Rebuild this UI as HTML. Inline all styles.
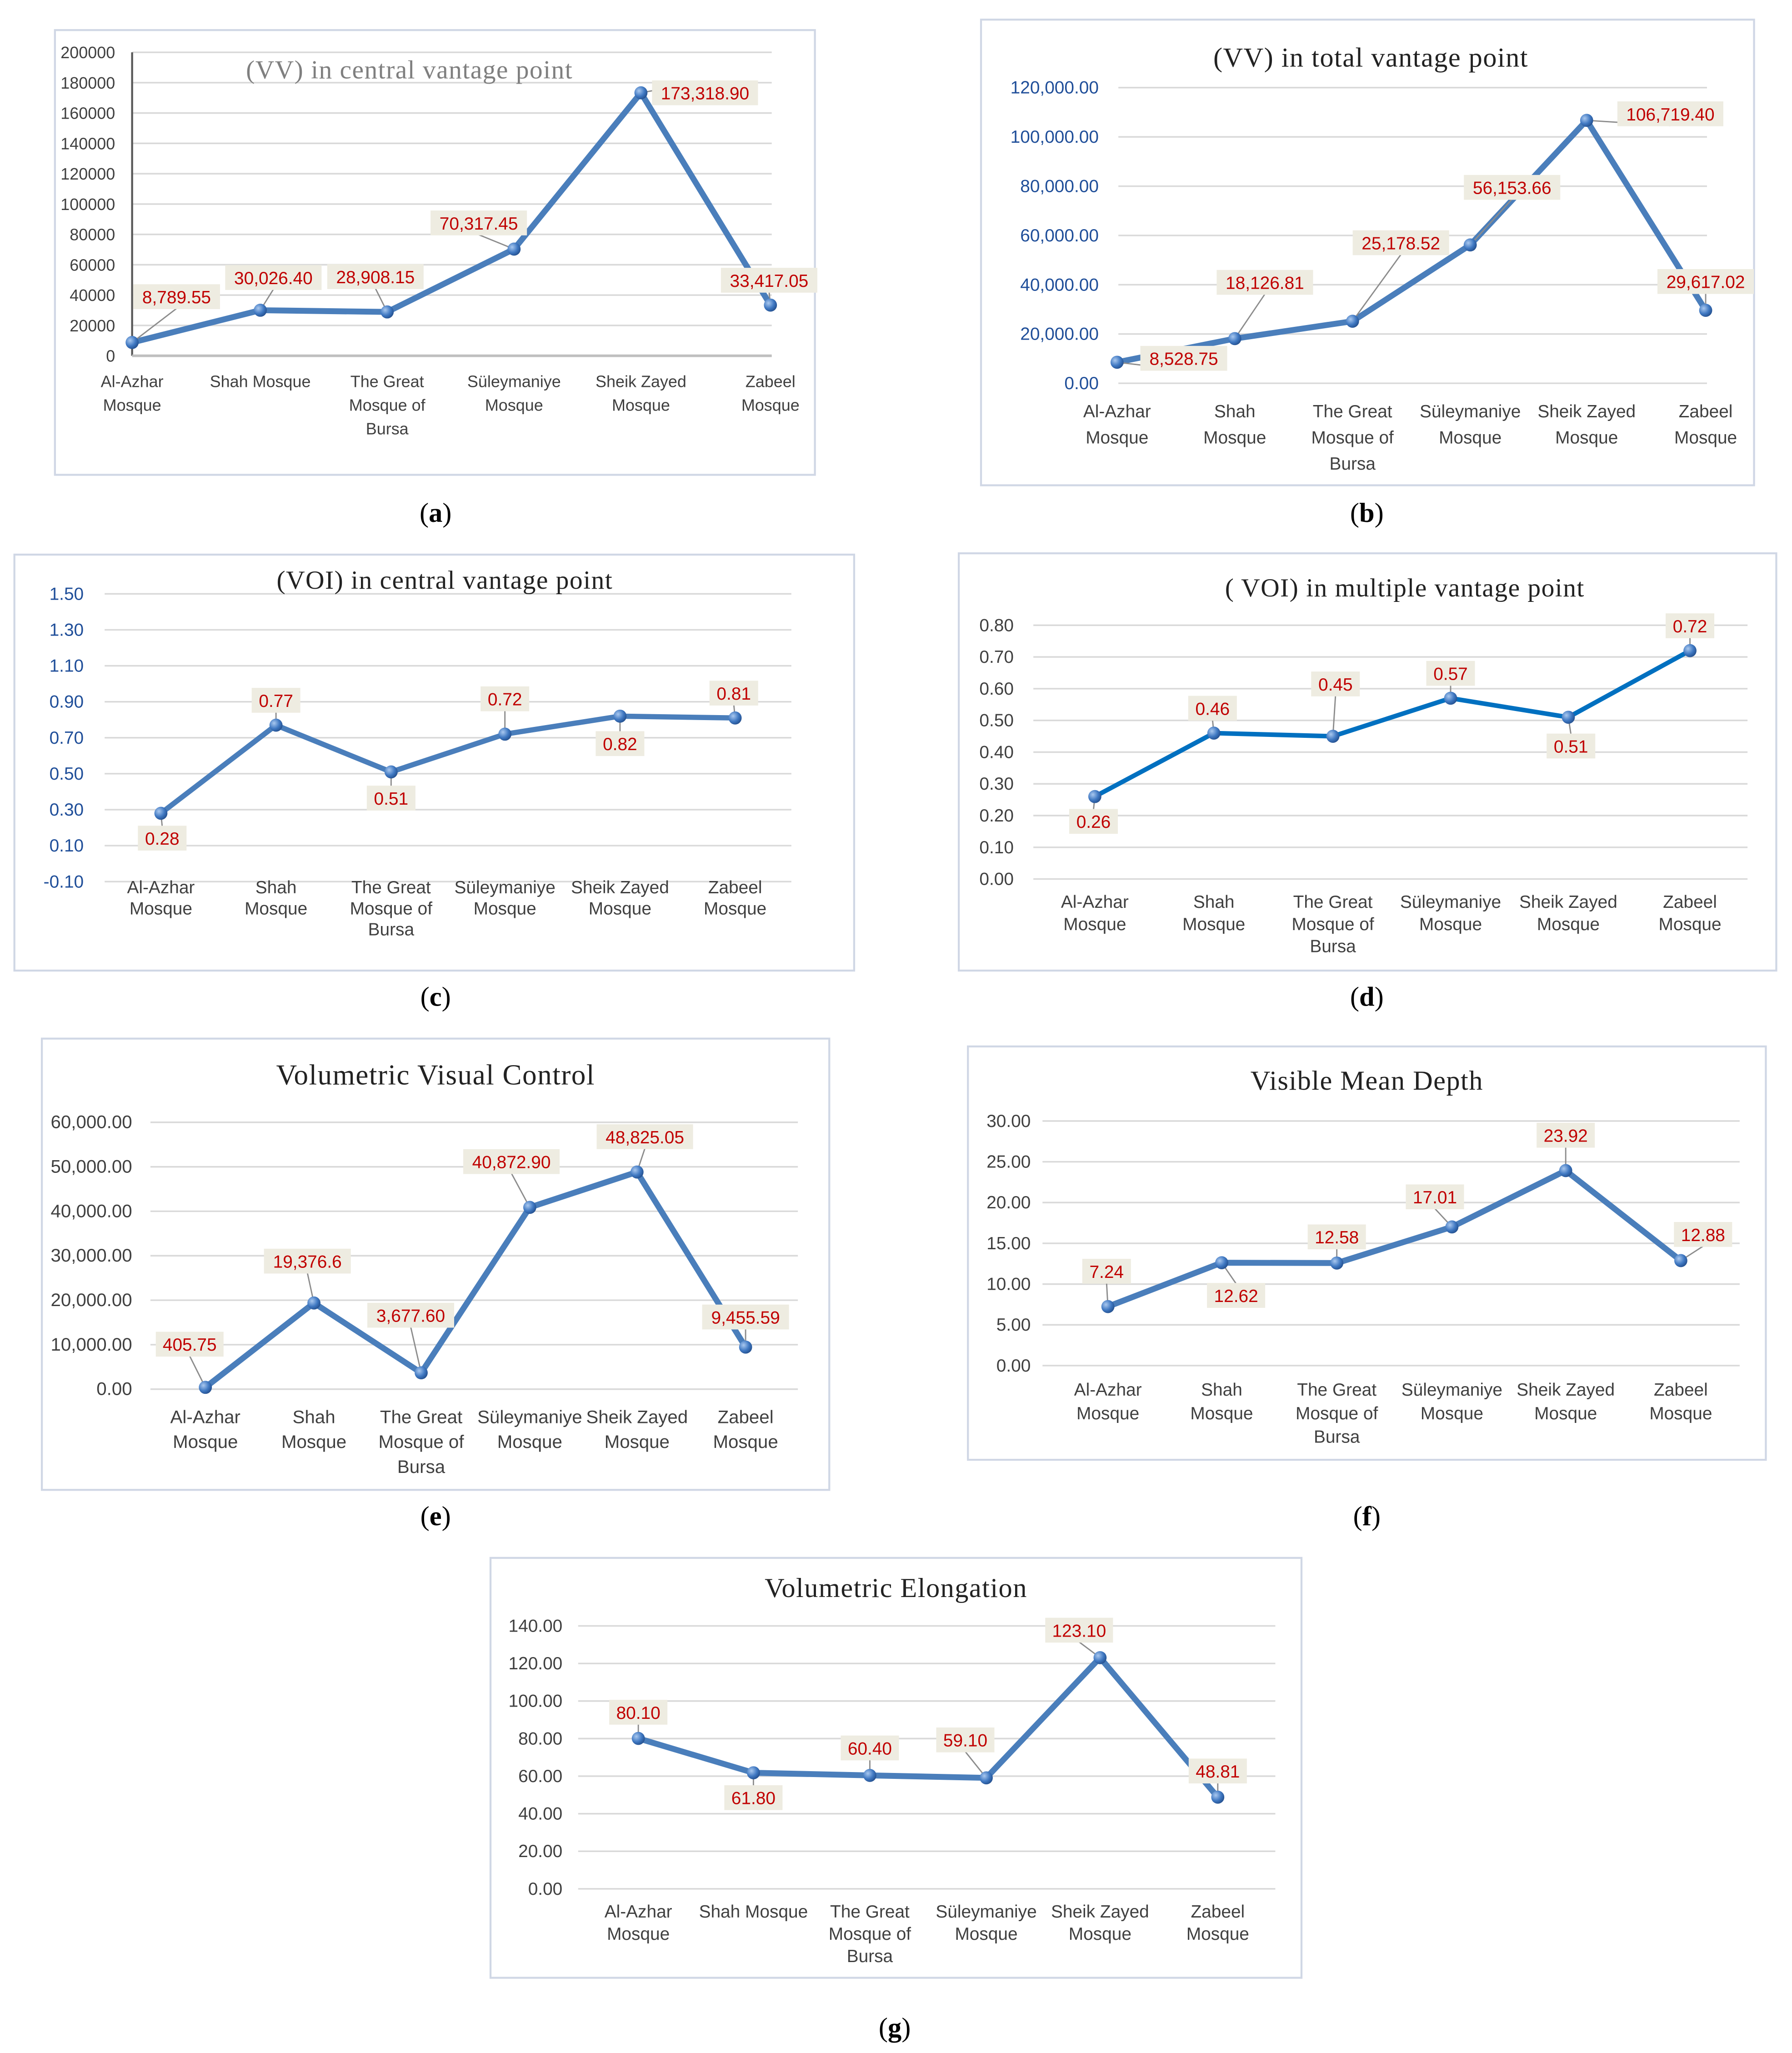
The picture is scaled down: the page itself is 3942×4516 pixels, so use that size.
<!DOCTYPE html>
<html><head><meta charset="utf-8">
<style>
html,body{margin:0;padding:0;background:#fff;}
svg{display:block;}
</style></head>
<body>
<svg id="s" width="3942" height="4516" viewBox="0 0 1370 1569.5" xmlns="http://www.w3.org/2000/svg">
<defs>
<radialGradient id="mk" cx="35%" cy="35%" r="70%"><stop offset="0" stop-color="#a9c8ef"/><stop offset="0.6" stop-color="#3f78c2"/><stop offset="1" stop-color="#24508f"/></radialGradient>
</defs>
</svg>
<script>
const cats = ["Al-Azhar Mosque","Shah Mosque","The Great Mosque of Bursa","Süleymaniye Mosque","Sheik Zayed Mosque","Zabeel Mosque"];
const valuesA = [8789.55,30026.40,28908.15,70317.45,173318.90,33417.05];
const labelsA = ["8,789.55","30,026.40","28,908.15","70,317.45","173,318.90","33,417.05"];
const ticksA = [0,20000,40000,60000,80000,100000,120000,140000,160000,180000,200000];
const tickLabelsA = ["0","20000","40000","60000","80000","100000","120000","140000","160000","180000","200000"];
const valuesB = [8528.75,18126.81,25178.52,56153.66,106719.40,29617.02];
const labelsB = ["8,528.75","18,126.81","25,178.52","56,153.66","106,719.40","29,617.02"];
const ticksB = [0,20000,40000,60000,80000,100000,120000];
const tickLabelsB = ["0.00","20,000.00","40,000.00","60,000.00","80,000.00","100,000.00","120,000.00"];
const valuesC = [0.28,0.77,0.51,0.72,0.82,0.81];
const labelsC = ["0.28","0.77","0.51","0.72","0.82","0.81"];
const ticksC = [-0.1,0.1,0.3,0.5,0.7,0.9,1.1,1.3,1.5];
const tickLabelsC = ["-0.10","0.10","0.30","0.50","0.70","0.90","1.10","1.30","1.50"];
const valuesD = [0.26,0.46,0.45,0.57,0.51,0.72];
const labelsD = ["0.26","0.46","0.45","0.57","0.51","0.72"];
const ticksD = [0,0.1,0.2,0.3,0.4,0.5,0.6,0.7,0.8];
const tickLabelsD = ["0.00","0.10","0.20","0.30","0.40","0.50","0.60","0.70","0.80"];
const valuesE = [405.75,19376.6,3677.60,40872.90,48825.05,9455.59];
const labelsE = ["405.75","19,376.6","3,677.60","40,872.90","48,825.05","9,455.59"];
const ticksE = [0,10000,20000,30000,40000,50000,60000];
const tickLabelsE = ["0.00","10,000.00","20,000.00","30,000.00","40,000.00","50,000.00","60,000.00"];
const valuesF = [7.24,12.62,12.58,17.01,23.92,12.88];
const labelsF = ["7.24","12.62","12.58","17.01","23.92","12.88"];
const ticksF = [0,5,10,15,20,25,30];
const tickLabelsF = ["0.00","5.00","10.00","15.00","20.00","25.00","30.00"];
const valuesG = [80.10,61.80,60.40,59.10,123.10,48.81];
const labelsG = ["80.10","61.80","60.40","59.10","123.10","48.81"];
const ticksG = [0,20,40,60,80,100,120,140];
const tickLabelsG = ["0.00","20.00","40.00","60.00","80.00","100.00","120.00","140.00"];

const catsLong = [["Al-Azhar","Mosque"],["Shah Mosque"],["The Great","Mosque of","Bursa"],["Süleymaniye","Mosque"],["Sheik Zayed","Mosque"],["Zabeel","Mosque"]];
const catsShort = [["Al-Azhar","Mosque"],["Shah","Mosque"],["The Great","Mosque of","Bursa"],["Süleymaniye","Mosque"],["Sheik Zayed","Mosque"],["Zabeel","Mosque"]];

const NS="http://www.w3.org/2000/svg";
const svg=document.getElementById('s');
function mk(tag,attrs,parent){const e=document.createElementNS(NS,tag);for(const k in attrs)e.setAttribute(k,attrs[k]);(parent||svg).appendChild(e);return e;}

const panels=[
 {id:'a',box:[42,23,581,340],title:"(VV) in central vantage point",tx:313,ty:60,tcol:'#7f7f7f',tsize:20,
  vals:valuesA,labs:labelsA,ticks:ticksA,tl:tickLabelsA,y0:272,y1:40,ymin:0,ymax:200000,xs:[101,199,296,393,490,589],
  gx:[101,590],tlx:88,tsz:12.5,catL:catsLong,cy:296,clh:18,axis:true,lc:'#4a7ebb',lw:4.5,
  off:[[34,-35],[10,-25],[-9,-27],[-27,-20],[49,0],[-1,-19]],cap:[333,392]},
 {id:'b',box:[750,15,591,356],title:"(VV) in total vantage point",tx:1048,ty:51,tcol:'#222',tsize:21,
  vals:valuesB,labs:labelsB,ticks:ticksB,tl:tickLabelsB,y0:293,y1:67,ymin:0,ymax:120000,xs:[854,944,1034,1124,1213,1304],
  gx:[855,1305],tlx:840,tsz:13.5,tcolT:'#1f4e99',catL:catsShort,cy:319,clh:20,lc:'#4a7ebb',lw:4.5,
  off:[[51,-3],[23,-43],[37,-60],[32,-44],[64,-5],[0,-22]],cap:[1045,392]},
 {id:'c',box:[11,424,642,318],title:"(VOI)  in central vantage point",tx:340,ty:450,tcol:'#222',tsize:20,
  vals:valuesC,labs:labelsC,ticks:ticksC,tl:tickLabelsC,y0:674,y1:454,ymin:-0.1,ymax:1.5,xs:[123,211,299,386,474,562],
  gx:[80,605],tlx:64,tsz:13.5,tcolT:'#1f4e99',catL:catsShort,cy:683,clh:16,lc:'#4a7ebb',lw:4,
  off:[[1,19],[0,-19],[0,20],[0,-27],[0,21],[-1,-19]],cap:[333,762]},
 {id:'d',box:[733,423,625,319],title:"( VOI) in multiple vantage point",tx:1074,ty:456,tcol:'#222',tsize:20,
  vals:valuesD,labs:labelsD,ticks:ticksD,tl:tickLabelsD,y0:672,y1:478,ymin:0,ymax:0.8,xs:[837,928,1019,1109,1199,1292],
  gx:[790,1336],tlx:775,tsz:13.5,catL:catsShort,cy:694,clh:17,lc:'#0070c0',lw:3.5,
  off:[[-1,19],[-1,-19],[2,-40],[0,-19],[2,22],[0,-19]],cap:[1045,762]},
 {id:'e',box:[32,794,602,345],title:"Volumetric  Visual Control",tx:333,ty:829,tcol:'#222',tsize:22,
  vals:valuesE,labs:labelsE,ticks:ticksE,tl:tickLabelsE,y0:1062,y1:858,ymin:0,ymax:60000,xs:[157,240,322,405,487,570],
  gx:[115,610],tlx:101,tsz:14,catL:catsShort,cy:1088,clh:19,lc:'#4a7ebb',lw:4.5,
  off:[[-12,-33],[-5,-32],[-8,-44],[-14,-35],[6,-27],[0,-23]],cap:[333,1159]},
 {id:'f',box:[740,800,610,316],title:"Visible Mean Depth",tx:1045,ty:833,tcol:'#222',tsize:21,
  vals:valuesF,labs:labelsF,ticks:ticksF,tl:tickLabelsF,y0:1044,y1:857,ymin:0,ymax:30,xs:[847,934,1022,1110,1197,1285],
  gx:[797,1330],tlx:788,tsz:13.5,catL:catsShort,cy:1067,clh:18,lc:'#4a7ebb',lw:4.5,
  off:[[-1,-27],[11,25],[0,-20],[-13,-23],[0,-27],[17,-20]],cap:[1045,1159]},
 {id:'g',box:[375,1191,620,321],title:"Volumetric  Elongation",tx:685,ty:1221,tcol:'#222',tsize:21,
  vals:valuesG,labs:labelsG,ticks:ticksG,tl:tickLabelsG,y0:1444,y1:1243,ymin:0,ymax:140,xs:[488,576,665,754,841,931],
  gx:[442,975],tlx:430,tsz:13.5,catL:catsLong,cy:1466,clh:17,lc:'#4a7ebb',lw:4.5,
  off:[[0,-20],[0,19],[0,-21],[-16,-29],[-16,-21],[0,-20]],cap:[684,1550]}
];

panels.forEach(p=>{
  const g=mk('g',{});
  
  
  const yS=v=>p.y0+(v-p.ymin)/(p.ymax-p.ymin)*(p.y1-p.y0);
  const r=mk('rect',{x:p.box[0],y:p.box[1],width:p.box[2],height:p.box[3],fill:'#fff',stroke:'#d0d7e5','stroke-width':1.5},g);
  
  
  p.ticks.forEach((t,i)=>{
    const y=yS(t);
    const gl=mk('line',{x1:p.gx[0],x2:p.gx[1],y1:y,y2:y,stroke:'#d9d9d9','stroke-width':1.2},g);
    
    
    const tx=mk('text',{x:p.tlx,y:y+4.5,'text-anchor':'end','font-family':'Liberation Sans, sans-serif','font-size':p.tsz,fill:p.tcolT||'#404040'},g);
    tx.textContent=p.tl[i];
    
    
  });
  if(p.axis){
    const ax=mk('line',{x1:p.gx[0],x2:p.gx[0],y1:p.y1,y2:p.y0,stroke:'#595959','stroke-width':1.5},g);
    
    
    const bx=mk('line',{x1:p.gx[0],x2:p.gx[1],y1:p.y0,y2:p.y0,stroke:'#bfbfbf','stroke-width':2},g);
    
    
  }
  const t=mk('text',{x:p.tx,y:p.ty,'text-anchor':'middle','font-family':'Liberation Serif, serif','font-size':p.tsize,fill:p.tcol,'letter-spacing':'0.5'},g);
  t.textContent=p.title;
  
  
  p.catL.forEach((lines,i)=>{
    const tx=mk('text',{x:p.xs[i],y:p.cy,'text-anchor':'middle','font-family':'Liberation Sans, sans-serif','font-size':p.tsz,fill:'#404040'},g);
    
    
    lines.forEach((l,j)=>{const ts=mk('tspan',{x:p.xs[i],dy:j?p.clh:0},tx);ts.textContent=l;});
  });
  const pts=p.vals.map((v,i)=>[p.xs[i],yS(v)]);
  const pl=mk('polyline',{points:pts.map(q=>q.join(',')).join(' '),fill:'none',stroke:p.lc,'stroke-width':p.lw,'stroke-linejoin':'round'},g);
  
  
  pts.forEach((q,i)=>{
    const lx=q[0]+p.off[i][0], ly=q[1]+p.off[i][1];
    const ld=mk('line',{x1:q[0],y1:q[1],x2:lx,y2:ly+(p.off[i][1]<0?9:-9),stroke:'#8c8c8c','stroke-width':1},g);
    
    
    const c=mk('circle',{cx:q[0],cy:q[1],r:5,fill:'url(#mk)'},g);
    
    
    const w=p.labs[i].length*7.3+8;
    const bg=mk('rect',{x:lx-w/2,y:ly-9.5,width:w,height:19,fill:'#eeece1'},g);
    
    
    const vt=mk('text',{x:lx,y:ly+5,'text-anchor':'middle','font-family':'Liberation Sans, sans-serif','font-size':13.5,fill:'#c00000'},g);
    vt.textContent=p.labs[i];
    
    
  });
  const cp=mk('text',{x:p.cap[0],y:p.cap[1]+7,'text-anchor':'middle','font-family':'Liberation Serif, serif','font-size':21,fill:'#000'},g);
  
  
  const a1=mk('tspan',{},cp);a1.textContent='(';
  const a2=mk('tspan',{'font-weight':'bold'},cp);a2.textContent=p.id;
  const a3=mk('tspan',{},cp);a3.textContent=')';
});
</script>
</body></html>
